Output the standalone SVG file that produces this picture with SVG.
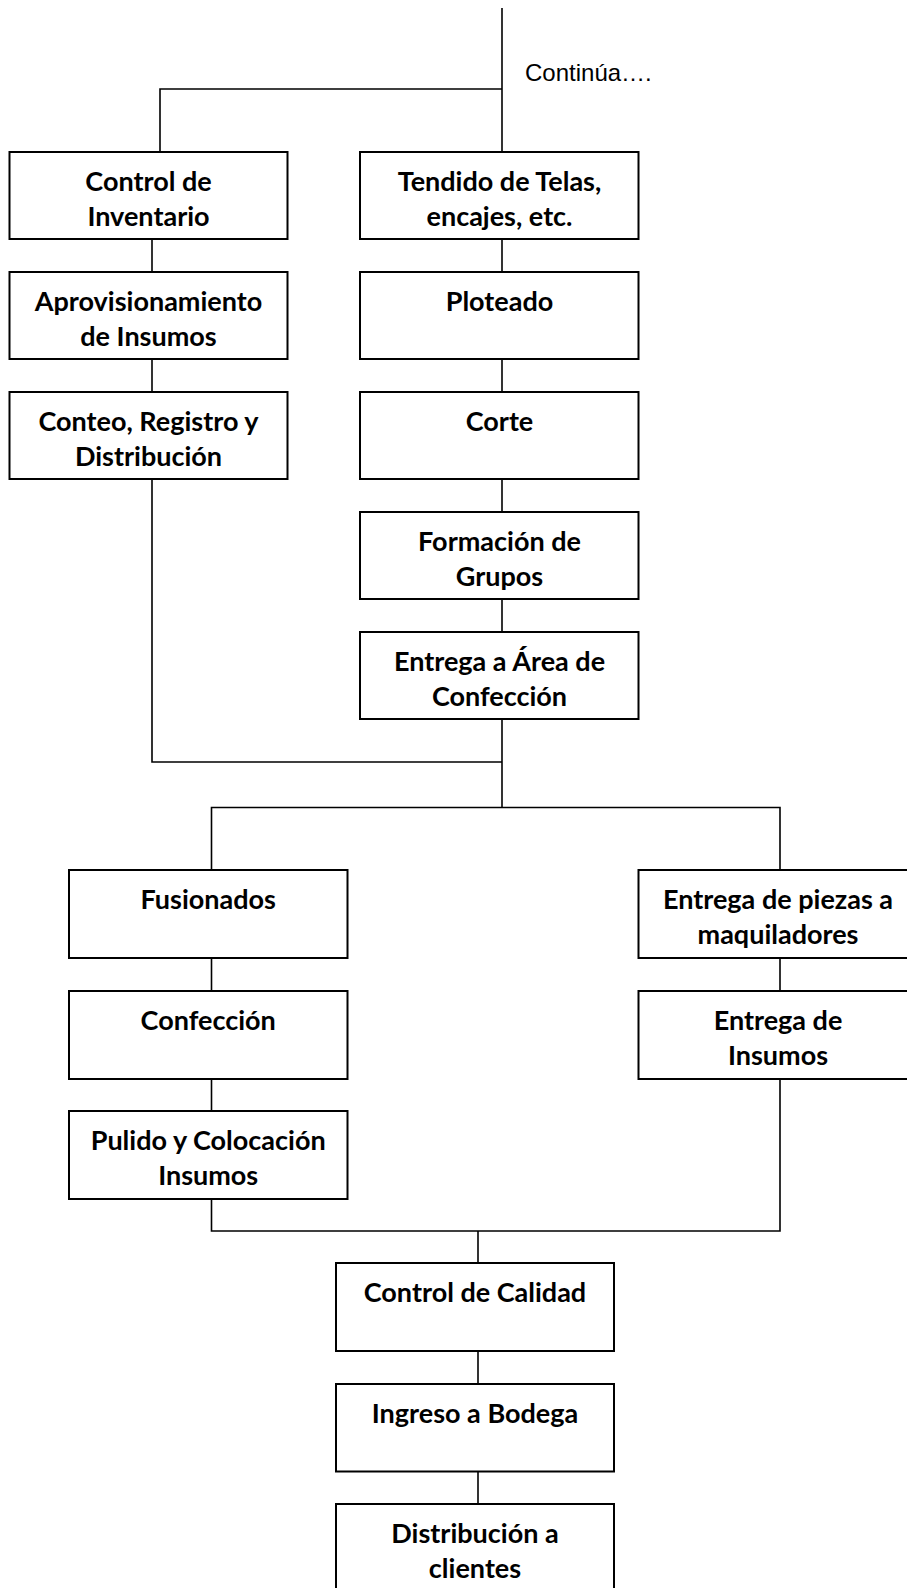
<svg xmlns="http://www.w3.org/2000/svg" width="907" height="1588" viewBox="0 0 907 1588">
<style>
.box{fill:#fff;stroke:#000;stroke-width:2}
.lbl{font-family:Lato,"Open Sans","Liberation Sans",sans-serif;font-weight:bold;font-size:27px;fill:#000;text-anchor:middle}
.note{font-family:"Liberation Sans",Arial,sans-serif;font-size:24px;fill:#000}
.conn{fill:none;stroke:#000;stroke-width:1.6}
</style>
<rect width="907" height="1588" fill="#fff"/>
<g id="connectors" class="conn">
<path d="M502,8 V152"/>
<path d="M502,89 H160 V152"/>
<path d="M152,239 V272"/>
<path d="M152,359 V392"/>
<path d="M152,479 V762 H502"/>
<path d="M502,239 V272"/>
<path d="M502,359 V392"/>
<path d="M502,479 V512"/>
<path d="M502,599 V632"/>
<path d="M502,719 V807.5"/>
<path d="M211.5,870 V807.5 H780 V870"/>
<path d="M211.5,958 V991"/>
<path d="M211.5,1079 V1111"/>
<path d="M211.5,1199 V1231 H780 V1079"/>
<path d="M780,958 V991"/>
<path d="M478,1231 V1263"/>
<path d="M478,1351 V1384"/>
<path d="M478,1471.5 V1504"/>
</g>
<text class="note" x="525" y="81">Continúa….</text>
<g id="n1"><rect class="box" x="9.5" y="152" width="278" height="87"/><text class="lbl" x="148.5" y="191">Control de</text><text class="lbl" x="148.5" y="226">Inventario</text></g>
<g id="n2"><rect class="box" x="9.5" y="272" width="278" height="87"/><text class="lbl" x="148.5" y="311">Aprovisionamiento</text><text class="lbl" x="148.5" y="346">de Insumos</text></g>
<g id="n3"><rect class="box" x="9.5" y="392" width="278" height="87"/><text class="lbl" x="148.5" y="431">Conteo, Registro y</text><text class="lbl" x="148.5" y="466">Distribución</text></g>
<g id="n4"><rect class="box" x="360" y="152" width="278.5" height="87"/><text class="lbl" x="499.5" y="191">Tendido de Telas,</text><text class="lbl" x="499.5" y="226">encajes, etc.</text></g>
<g id="n5"><rect class="box" x="360" y="272" width="278.5" height="87"/><text class="lbl" x="499.5" y="311">Ploteado</text></g>
<g id="n6"><rect class="box" x="360" y="392" width="278.5" height="87"/><text class="lbl" x="499.5" y="431">Corte</text></g>
<g id="n7"><rect class="box" x="360" y="512" width="278.5" height="87"/><text class="lbl" x="499.5" y="551">Formación de</text><text class="lbl" x="499.5" y="586">Grupos</text></g>
<g id="n8"><rect class="box" x="360" y="632" width="278.5" height="87"/><text class="lbl" x="499.5" y="671">Entrega a Área de</text><text class="lbl" x="499.5" y="706">Confección</text></g>
<g id="n9"><rect class="box" x="69" y="870" width="278.5" height="88"/><text class="lbl" x="208.2" y="909">Fusionados</text></g>
<g id="n10"><rect class="box" x="69" y="991" width="278.5" height="88"/><text class="lbl" x="208.2" y="1030">Confección</text></g>
<g id="n11"><rect class="box" x="69" y="1111" width="278.5" height="88"/><text class="lbl" x="208.2" y="1150">Pulido y Colocación</text><text class="lbl" x="208.2" y="1185">Insumos</text></g>
<g id="n12"><rect class="box" x="638.5" y="870" width="281" height="88"/><text class="lbl" x="778" y="909">Entrega de piezas a</text><text class="lbl" x="778" y="944">maquiladores</text></g>
<g id="n13"><rect class="box" x="638.5" y="991" width="281" height="88"/><text class="lbl" x="778" y="1030">Entrega de</text><text class="lbl" x="778" y="1065">Insumos</text></g>
<g id="n14"><rect class="box" x="336" y="1263" width="278" height="88"/><text class="lbl" x="475" y="1302">Control de Calidad</text></g>
<g id="n15"><rect class="box" x="336" y="1384" width="278" height="87.5"/><text class="lbl" x="475" y="1423">Ingreso a Bodega</text></g>
<g id="n16"><rect class="box" x="336" y="1504" width="278" height="87.5"/><text class="lbl" x="475" y="1543">Distribución a</text><text class="lbl" x="475" y="1578">clientes</text></g>
</svg>
